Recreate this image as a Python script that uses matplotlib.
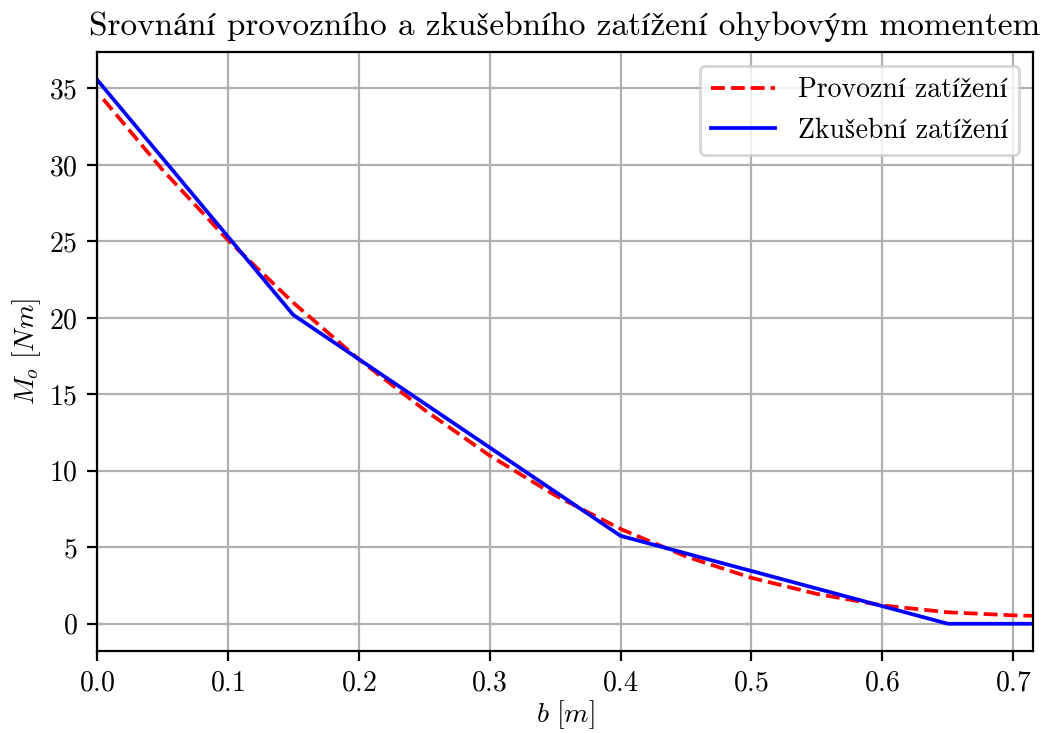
import matplotlib
matplotlib.use("Agg")
import matplotlib.pyplot as plt

plt.rcParams["font.family"] = ["cmr10", "STIXGeneral"]
plt.rcParams["mathtext.fontset"] = "cm"
plt.rcParams["axes.formatter.use_mathtext"] = True
plt.rcParams["font.size"] = 10

# Provozní zatížení (red dashed)
b_prov = [0.005, 0.05, 0.1, 0.15, 0.2, 0.25, 0.3, 0.35, 0.4, 0.45, 0.5,
          0.55, 0.6, 0.65, 0.7, 0.715]
m_prov = [34.3, 29.7, 25.1, 21.0, 17.3, 14.0, 11.0, 8.4, 6.2, 4.4, 3.0,
          1.95, 1.2, 0.75, 0.55, 0.52]

# Zkušební zatížení (blue)
b_zk = [0.0, 0.15, 0.4, 0.65, 0.715]
m_zk = [35.6, 20.2, 5.75, 0.0, 0.0]

fig, ax = plt.subplots(figsize=(5.235, 3.665), dpi=200)
fig.subplots_adjust(left=0.0924, right=0.9866, top=0.929, bottom=0.1119)

ax.plot(b_prov, m_prov, "r--", linewidth=1.35, label="Provozní zatížení")
ax.plot(b_zk, m_zk, "b-", linewidth=1.35, label="Zkušební zatížení")

ax.set_xlim(0, 0.715)
ax.set_xlabel(r"$b\ [m]$", labelpad=0.5)
ax.set_ylabel(r"$M_o\ [Nm]$", labelpad=2)
ax.set_title("Srovnání provozního a zkušebního zatížení ohybovým momentem")
ax.grid(True)
ax.legend(loc="upper right", handlelength=2.3)

fig.savefig("out.png", dpi=200)
